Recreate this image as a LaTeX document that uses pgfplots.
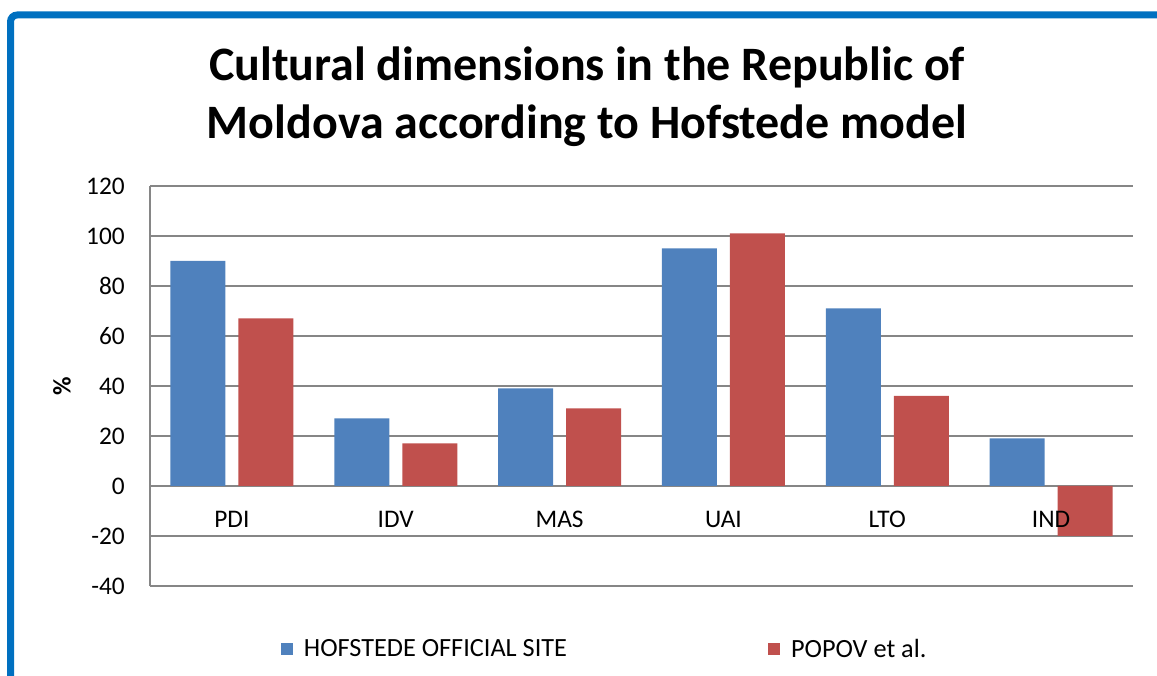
\documentclass[border=0pt]{standalone}
\usepackage{fontspec}
\setmainfont{Carlito}
\usepackage{pgfplots}
\pgfplotsset{compat=1.18}
\definecolor{hblue}{RGB}{79,129,189}
\definecolor{pred}{RGB}{192,80,77}
\definecolor{frameblue}{RGB}{0,112,192}
\definecolor{gridgray}{RGB}{134,134,134}
\tikzset{catlabel/.style={anchor=north, inner sep=0pt, yshift=-18.75pt, font=\fontsize{19}{19}\selectfont}}

\begin{document}
\begin{tikzpicture}
\begin{axis}[
  at={(112.5pt,66.75pt)}, anchor=south west,
  scale only axis, width=737.25pt, height=300pt,
  ybar=9.75pt, bar width=41.25pt,
  xmin=-0.5, xmax=5.5, ymin=-40, ymax=120,
  ytick={-40,-20,...,120},
  xtick=data, xticklabels={},
  axis y line*=left, axis x line*=bottom,
  ymajorgrids, grid style={gridgray, line width=1.2pt},
  axis line style={gridgray, line width=1.2pt},
  major tick length=0pt,
  tick label style={font=\fontsize{19}{19}\selectfont},
  /pgf/number format/assume math mode=true,
  yticklabel style={inner sep=0pt, xshift=-18.75pt},
  ylabel={\textbf{\%}},
  every axis y label/.style={at={(axis description cs:-0.0895,0.5)}, rotate=90, anchor=center, font=\fontsize{19}{19}\selectfont},
  legend columns=2,
  legend style={draw=none, at={(axis description cs:0.1333,-0.1575)}, anchor=west,
    font=\fontsize{19.7}{19.7}\selectfont, inner sep=0pt,
    nodes={inner sep=0pt},
    /tikz/every odd column/.append style={column sep=8pt},
    /tikz/every even column/.append style={column sep=151pt}},
  legend image code/.code={\fill[#1] (0pt,-4.5pt) rectangle (9pt,4.5pt);},
]
\addplot[fill=hblue, draw=none] coordinates {(0,90) (1,27) (2,39) (3,95) (4,71) (5,19)};
\addplot[fill=pred, draw=none] coordinates {(0,67) (1,17) (2,31) (3,101) (4,36) (5,-20)};
\legend{HOFSTEDE OFFICIAL SITE, POPOV et al.}
% category names sit just under the zero line, over the bars
\node[catlabel] at (axis cs:0,0) {PDI};
\node[catlabel] at (axis cs:1,0) {IDV};
\node[catlabel] at (axis cs:2,0) {MAS};
\node[catlabel] at (axis cs:3,0) {UAI};
\node[catlabel] at (axis cs:4,0) {LTO};
\node[catlabel] at (axis cs:5,0) {IND};
\end{axis}
\begin{scope}[x=0.75pt,y=0.75pt]
% outer frame, only its top and left edges fall on the page
\begin{scope}
  \clip (0,0) rectangle (1157,675);
  \draw[frameblue, line width=5.25pt, rounded corners=5pt] (10.5,-60) rectangle (1220,660);
\end{scope}
\node[font=\bfseries\fontsize{36}{43.5}\selectfont, align=center] at (587,578)
  {Cultural dimensions in the Republic of\\Moldova according to Hofstede model};
\pgfresetboundingbox
\path[use as bounding box] (0,0) rectangle (1157,675);
\end{scope}
\end{tikzpicture}
\end{document}
